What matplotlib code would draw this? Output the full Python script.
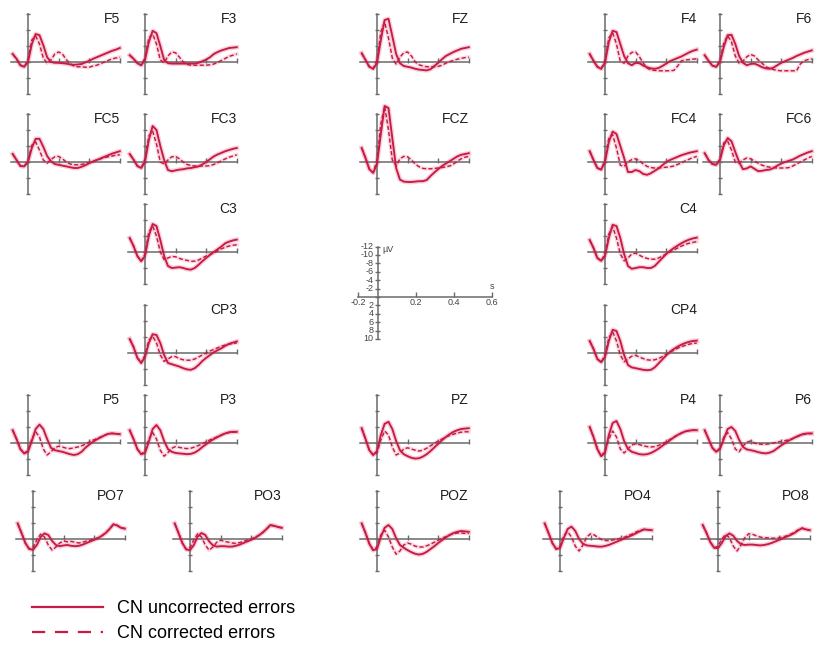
import matplotlib
matplotlib.use('Agg')
import matplotlib.pyplot as plt
from matplotlib.lines import Line2D

plt.rcParams['font.family'] = ['Liberation Sans', 'DejaVu Sans']
plt.rcParams['lines.scale_dashes'] = False

# sample times (s)
t = [-0.1, -0.075, -0.05, -0.025, 0.0, 0.025, 0.05, 0.075, 0.1, 0.125, 0.15, 0.175, 0.2, 0.225,
     0.25, 0.275, 0.3, 0.325, 0.35, 0.375, 0.4, 0.425, 0.45, 0.475, 0.5, 0.525, 0.55, 0.575, 0.6]

# amplitudes in microvolt (negative plotted upwards)
f5_unc = [-2.0, -0.8, 0.8, 1.2, 0.0, -4.5, -7.0, -6.7, -4.2, -1.2, 0.0, 0.2, 0.2, 0.3, 0.4, 0.6, 0.7, 0.6, 0.5, 0.1, -0.3, -0.8, -1.2, -1.6, -2.0, -2.4, -2.8, -3.1, -3.5]
f5_cor = [-2.0, -0.8, 0.8, 1.2, -0.5, -5.5, -6.5, -4.5, -1.0, 0.3, -0.5, -2.0, -2.5, -2.0, -0.6, 0.4, 1.0, 1.2, 1.2, 1.3, 1.3, 1.0, 0.8, 0.4, 0.0, -0.4, -0.8, -1.0, -1.2]
f3_unc = [-1.7, -0.8, 0.3, 0.8, -0.5, -5.0, -7.8, -7.2, -4.0, -0.5, 0.3, 0.4, 0.4, 0.4, 0.4, 0.4, 0.4, 0.4, 0.2, -0.2, -0.6, -1.2, -2.0, -2.5, -2.9, -3.2, -3.5, -3.6, -3.7]
f3_cor = [-1.7, -0.8, 0.3, 0.8, -1.0, -6.0, -7.0, -4.5, -0.5, 0.2, -1.5, -2.5, -2.3, -1.2, 0.0, 0.6, 0.8, 0.8, 0.8, 0.8, 0.8, 0.7, 0.5, 0.1, -0.4, -0.9, -1.4, -1.7, -2.0]
fz_unc = [-2.2, -0.5, 1.2, 1.7, 0.3, -5.5, -10.5, -10.8, -6.5, -2.0, 0.3, 1.0, 1.2, 1.4, 1.7, 1.9, 2.0, 2.1, 1.8, 1.0, 0.2, -0.7, -1.5, -2.0, -2.5, -2.9, -3.3, -3.5, -3.7]
fz_cor = [-2.2, -0.5, 1.2, 1.7, -0.5, -7.5, -10.0, -6.0, -1.0, 0.5, -1.2, -2.3, -2.5, -1.5, 0.0, 0.7, 1.0, 1.2, 1.2, 1.2, 1.1, 0.8, 0.3, -0.1, -0.4, -0.7, -0.9, -1.1, -1.2]
f4_unc = [-2.0, -0.3, 1.2, 1.7, 0.2, -5.0, -7.8, -7.5, -4.5, -1.5, 0.3, 0.8, 0.2, 0.3, 0.9, 1.3, 1.6, 1.7, 1.5, 1.0, 0.4, -0.2, -0.6, -1.0, -1.4, -1.9, -2.4, -2.8, -3.1]
f4_cor = [-2.0, -0.3, 1.2, 1.7, -0.3, -6.0, -7.3, -4.5, -0.2, 0.3, -1.5, -2.4, -2.5, -1.3, 0.3, 1.5, 2.0, 2.1, 2.2, 2.2, 2.2, 2.2, 2.1, 1.0, -0.3, -0.5, -0.6, -0.7, -0.8]
f6_unc = [-1.7, -0.3, 0.9, 1.2, 0.0, -3.8, -6.7, -6.8, -4.5, -1.5, 0.2, 0.8, 0.5, 0.4, 0.8, 1.3, 1.6, 1.7, 1.4, 0.8, 0.2, -0.2, -0.6, -1.0, -1.5, -1.9, -2.3, -2.6, -2.9]
f6_cor = [-1.7, -0.3, 0.9, 1.2, -0.5, -4.8, -6.6, -5.0, -1.5, 0.3, -0.2, -1.3, -1.9, -1.5, -0.5, 0.3, 1.2, 1.6, 1.9, 2.1, 2.2, 2.2, 2.2, 2.2, 2.2, 0.5, -0.3, -0.6, -0.8]

fc5_unc = [-2.0, -0.5, 1.0, 1.1, 0.0, -3.5, -5.8, -5.8, -3.8, -1.5, -0.2, 0.5, 0.7, 0.9, 1.1, 1.3, 1.5, 1.5, 1.2, 0.8, 0.3, -0.1, -0.5, -0.9, -1.3, -1.7, -2.1, -2.4, -2.7]
fc5_cor = [-2.0, -0.5, 1.0, 1.1, -0.3, -4.2, -5.0, -3.0, -0.5, 0.3, -0.6, -1.3, -1.4, -0.8, 0.0, 0.5, 0.7, 0.7, 0.6, 0.4, 0.1, -0.2, -0.5, -0.8, -1.1, -1.3, -1.5, -1.7, -1.8]
fc3_unc = [-2.0, -0.6, 1.0, 1.5, 0.0, -5.5, -9.0, -8.0, -4.0, -0.5, 2.0, 2.3, 2.1, 1.9, 1.8, 1.6, 1.5, 1.3, 1.1, 0.6, 0.0, -0.7, -1.4, -1.9, -2.3, -2.7, -3.0, -3.3, -3.5]
fc3_cor = [-2.0, -0.6, 1.0, 1.5, -0.8, -6.5, -7.7, -4.5, 0.0, 0.5, -0.5, -1.3, -1.4, -0.8, 0.0, 0.6, 0.9, 1.0, 1.0, 1.0, 1.0, 0.9, 0.6, 0.2, -0.3, -0.8, -1.2, -1.5, -1.8]
fcz_unc = [-3.5, -1.0, 1.8, 2.7, 0.5, -7.0, -14.0, -13.5, -6.0, 1.5, 4.4, 4.9, 5.0, 5.0, 4.9, 4.8, 4.8, 4.5, 3.5, 2.6, 1.8, 1.0, 0.4, -0.2, -0.8, -1.4, -1.8, -2.0, -2.2]
fcz_cor = [-3.5, -1.0, 1.8, 2.7, -0.5, -9.5, -13.9, -8.0, -0.5, 1.0, -0.8, -1.4, -1.3, -0.5, 0.5, 1.2, 1.6, 1.7, 1.7, 1.6, 1.5, 1.4, 1.2, 1.0, 0.5, -0.2, -0.8, -1.2, -1.4]
fc4_unc = [-2.7, -0.5, 1.5, 1.9, 0.0, -5.0, -7.6, -7.0, -4.0, -1.0, 2.5, 2.5, 2.0, 2.3, 3.0, 3.2, 2.8, 2.2, 1.6, 0.8, 0.0, -0.5, -0.9, -1.3, -1.7, -2.0, -2.3, -2.5, -2.7]
fc4_cor = [-2.7, -0.5, 1.5, 1.9, -0.5, -6.0, -6.8, -3.5, 0.8, 1.1, 0.0, -0.6, -0.8, -0.3, 0.5, 1.1, 1.4, 1.5, 1.5, 1.4, 1.3, 1.2, 1.0, 0.6, 0.2, -0.3, -0.7, -1.1, -1.4]
fc6_unc = [-2.2, -0.5, 0.5, 0.7, -0.5, -4.2, -6.0, -5.2, -2.5, 0.0, 1.8, 1.6, 1.1, 1.7, 2.3, 2.2, 2.0, 1.9, 1.5, 0.9, 0.4, 0.0, -0.3, -0.6, -1.1, -1.6, -2.0, -2.4, -2.7]
fc6_cor = [-2.2, -0.5, 0.5, 0.7, -0.8, -4.8, -5.2, -3.0, 0.0, 0.3, -0.5, -1.0, -0.8, -0.2, 0.3, 0.8, 1.1, 1.3, 1.4, 1.5, 1.5, 1.5, 1.4, 1.0, 0.5, 0.0, -0.5, -1.0, -1.4]

c3_unc = [-3.5, -1.5, 1.0, 2.3, 1.0, -4.0, -7.0, -6.5, -3.0, 1.0, 3.5, 4.0, 3.9, 3.8, 4.0, 4.3, 4.4, 4.0, 3.2, 2.3, 1.5, 0.7, 0.0, -0.7, -1.4, -2.2, -2.6, -2.9, -3.1]
c3_cor = [-3.5, -1.5, 1.0, 2.3, 0.5, -5.0, -6.5, -4.0, 0.0, 1.9, 1.5, 1.1, 1.2, 1.6, 1.9, 2.1, 2.3, 2.3, 2.0, 1.5, 1.0, 0.6, 0.2, -0.3, -0.8, -1.2, -1.5, -1.7, -1.8]
c4_unc = [-3.0, -1.0, 1.5, 2.2, 1.0, -3.5, -6.8, -6.5, -3.5, 0.5, 3.5, 4.2, 4.0, 3.8, 3.8, 4.0, 4.0, 3.5, 2.5, 1.5, 0.5, -0.3, -1.0, -1.6, -2.2, -2.7, -3.1, -3.4, -3.6]
c4_cor = [-3.0, -1.0, 1.5, 2.2, 0.5, -4.5, -6.3, -3.5, 0.5, 2.2, 1.5, 0.5, 0.3, 0.8, 1.3, 1.6, 1.8, 1.8, 1.5, 1.0, 0.5, 0.0, -0.5, -1.0, -1.5, -1.9, -2.2, -2.4, -2.6]
cp3_unc = [-3.5, -1.5, 1.2, 2.5, 1.0, -2.5, -4.7, -4.5, -2.5, 0.5, 2.5, 2.8, 3.1, 3.4, 3.8, 4.1, 4.2, 3.8, 3.0, 2.0, 1.2, 0.5, -0.2, -0.7, -1.2, -1.8, -2.3, -2.6, -2.9]
cp3_cor = [-3.5, -1.5, 1.2, 2.5, 0.5, -3.2, -4.2, -2.5, 0.5, 2.1, 1.5, 0.9, 0.9, 1.4, 1.7, 1.8, 1.8, 1.5, 1.0, 0.5, 0.0, -0.5, -0.9, -1.3, -1.7, -2.0, -2.2, -2.4, -2.5]
cp4_unc = [-3.0, -1.0, 1.5, 2.3, 1.0, -3.0, -5.8, -5.5, -3.0, 0.5, 3.0, 3.6, 3.8, 4.0, 4.2, 4.3, 4.2, 3.6, 2.6, 1.6, 0.6, -0.3, -1.0, -1.6, -2.1, -2.5, -2.8, -3.0, -3.1]
cp4_cor = [-3.0, -1.0, 1.5, 2.3, 0.5, -3.8, -5.3, -3.0, 0.5, 2.2, 1.5, 0.8, 0.6, 1.0, 1.4, 1.7, 1.8, 1.7, 1.4, 0.9, 0.3, -0.2, -0.7, -1.2, -1.6, -1.9, -2.2, -2.4, -2.5]

p5_unc = [-3.2, -1.0, 1.5, 2.6, 2.2, -0.5, -3.5, -4.6, -3.5, -1.0, 1.2, 1.8, 2.0, 2.2, 2.5, 2.8, 3.0, 2.8, 2.2, 1.2, 0.4, -0.3, -0.9, -1.4, -1.9, -2.3, -2.4, -2.3, -2.2]
p5_cor = [-3.2, -1.0, 1.5, 2.6, 1.8, -1.0, -2.8, -1.5, 1.5, 3.0, 2.2, 1.2, 0.8, 1.0, 1.3, 1.4, 1.2, 1.0, 0.7, 0.3, -0.2, -0.7, -1.1, -1.5, -1.9, -2.3, -2.4, -2.3, -2.2]
p3_unc = [-3.2, -1.0, 1.5, 2.8, 2.5, -0.3, -3.5, -4.5, -3.2, -0.5, 1.5, 2.2, 2.5, 2.6, 2.7, 2.8, 2.7, 2.4, 1.8, 1.0, 0.3, -0.4, -1.0, -1.5, -2.0, -2.4, -2.7, -2.8, -2.8]
p3_cor = [-3.2, -1.0, 1.5, 2.8, 2.0, -1.0, -2.6, -1.0, 1.8, 3.3, 2.4, 1.3, 0.9, 1.1, 1.3, 1.4, 1.3, 1.0, 0.6, 0.2, -0.3, -0.8, -1.2, -1.6, -2.0, -2.4, -2.6, -2.7, -2.7]
pz_unc = [-3.7, -1.0, 1.8, 3.0, 2.0, -2.0, -4.8, -5.3, -3.5, -0.5, 1.8, 2.8, 3.3, 3.7, 3.9, 3.8, 3.4, 2.8, 2.0, 1.1, 0.2, -0.7, -1.5, -2.2, -2.8, -3.2, -3.5, -3.6, -3.7]
pz_cor = [-3.7, -1.0, 1.8, 3.0, 2.5, -0.8, -3.0, -2.0, 1.0, 3.0, 2.5, 1.5, 1.2, 1.5, 1.8, 2.0, 1.8, 1.3, 0.7, 0.1, -0.5, -1.0, -1.5, -1.9, -2.2, -2.5, -2.7, -2.8, -2.8]
p4_unc = [-4.0, -1.5, 1.5, 3.3, 2.5, -2.0, -5.0, -5.5, -3.5, -0.5, 1.5, 2.2, 2.5, 2.8, 2.9, 2.8, 2.5, 2.0, 1.4, 0.7, 0.0, -0.7, -1.4, -2.0, -2.5, -2.9, -3.1, -3.2, -3.2]
p4_cor = [-4.0, -1.5, 1.5, 3.3, 2.0, -1.0, -3.0, -1.5, 1.5, 2.5, 1.5, 0.5, 0.2, 0.4, 0.7, 0.9, 1.0, 0.9, 0.6, 0.2, -0.3, -0.9, -1.5, -2.0, -2.5, -2.9, -3.1, -3.2, -3.2]
p6_unc = [-3.2, -1.0, 1.2, 2.2, 1.5, -1.0, -3.5, -4.0, -3.0, -0.8, 1.0, 1.6, 1.8, 2.0, 2.3, 2.5, 2.6, 2.4, 2.0, 1.3, 0.6, 0.0, -0.6, -1.1, -1.6, -2.0, -2.3, -2.4, -2.4]
p6_cor = [-3.2, -1.0, 1.2, 2.2, 1.2, -1.5, -2.6, -1.0, 1.5, 2.2, 0.8, -0.2, -0.5, 0.0, 0.3, 0.3, 0.3, 0.2, 0.0, -0.2, -0.4, -0.6, -0.8, -1.1, -1.5, -1.9, -2.2, -2.3, -2.4]

po7_unc = [-3.9, -1.5, 1.0, 2.5, 2.7, 1.5, -0.5, -1.4, -1.0, 0.5, 1.5, 1.8, 1.6, 1.5, 1.7, 1.8, 1.7, 1.4, 1.0, 0.6, 0.2, -0.2, -0.8, -1.5, -2.5, -3.7, -3.4, -2.8, -2.6]
po7_cor = [-3.9, -1.5, 1.0, 2.5, 2.2, 0.2, -1.2, -0.5, 1.5, 2.8, 2.0, 1.0, 0.5, 0.7, 0.6, 0.8, 1.0, 0.8, 0.5, 0.3, 0.0, -0.3, -0.8, -1.5, -2.5, -3.5, -3.4, -2.8, -2.6]
po3_unc = [-3.9, -1.5, 1.0, 2.6, 2.8, 1.5, -0.6, -1.5, -1.0, 0.6, 1.6, 1.9, 1.8, 1.8, 1.9, 1.9, 1.7, 1.4, 1.0, 0.6, 0.2, -0.3, -0.9, -1.6, -2.5, -3.5, -3.3, -3.0, -2.8]
po3_cor = [-3.9, -1.5, 1.0, 2.6, 2.2, 0.2, -1.3, -0.5, 1.5, 2.8, 2.0, 0.8, 0.3, 0.6, 0.8, 1.0, 1.1, 0.9, 0.6, 0.3, 0.0, -0.4, -0.9, -1.6, -2.5, -3.4, -3.3, -3.0, -2.8]
poz_unc = [-3.9, -1.5, 1.2, 2.8, 2.5, -0.5, -2.8, -3.5, -2.5, -0.2, 1.5, 2.2, 2.8, 3.3, 3.7, 3.9, 3.7, 3.2, 2.5, 1.8, 1.0, 0.3, -0.4, -1.0, -1.5, -1.8, -2.0, -1.9, -1.8]
poz_cor = [-3.9, -1.5, 1.2, 2.8, 2.0, -1.0, -2.2, -0.5, 2.0, 3.8, 3.0, 1.5, 1.0, 1.3, 1.8, 2.0, 2.0, 1.7, 1.3, 0.8, 0.3, -0.2, -0.6, -1.0, -1.3, -1.5, -1.5, -1.4, -1.4]
po4_unc = [-3.9, -1.5, 1.0, 2.5, 2.3, -0.3, -2.5, -3.1, -2.0, 0.0, 1.2, 1.6, 1.7, 1.8, 1.9, 1.9, 1.7, 1.4, 1.0, 0.6, 0.2, -0.2, -0.6, -1.0, -1.5, -2.0, -2.4, -2.3, -2.2]
po4_cor = [-3.9, -1.5, 1.0, 2.5, 1.8, -0.8, -1.8, -0.5, 1.8, 3.0, 1.5, -0.5, -1.3, -1.0, -0.3, 0.2, 0.4, 0.4, 0.2, 0.0, -0.2, -0.5, -0.9, -1.3, -1.8, -2.2, -2.4, -2.3, -2.2]
po8_unc = [-3.5, -1.5, 0.8, 2.2, 2.3, 1.0, -0.7, -1.4, -0.8, 0.5, 1.3, 1.5, 1.4, 1.4, 1.5, 1.6, 1.5, 1.3, 1.0, 0.6, 0.2, -0.2, -0.6, -1.0, -1.5, -2.2, -2.7, -2.4, -2.2]
po8_cor = [-3.5, -1.5, 0.8, 2.2, 1.8, 0.0, -1.2, -0.3, 1.8, 3.0, 1.5, -0.3, -1.3, -1.2, -0.8, -0.5, -0.3, -0.3, -0.2, -0.2, -0.3, -0.5, -0.8, -1.2, -1.7, -2.3, -2.7, -2.4, -2.2]

# scale-bar ticks
scale_uv = [-12, -10, -8, -6, -4, -2, 0, 2, 4, 6, 8, 10]
scale_s = [-0.1, 0.2, 0.4, 0.6]
scale_s_labels = ['-0.2', '0.2', '0.4', '0.6']

# panel name -> (uncorrected, corrected, origin pixel x, origin pixel y)
panels = {
    'F5': (f5_unc, f5_cor, 28, 62), 'F3': (f3_unc, f3_cor, 145, 62), 'FZ': (fz_unc, fz_cor, 377, 62),
    'F4': (f4_unc, f4_cor, 605, 62), 'F6': (f6_unc, f6_cor, 720, 62),
    'FC5': (fc5_unc, fc5_cor, 28, 162), 'FC3': (fc3_unc, fc3_cor, 145, 162), 'FCZ': (fcz_unc, fcz_cor, 377, 162),
    'FC4': (fc4_unc, fc4_cor, 605, 162), 'FC6': (fc6_unc, fc6_cor, 720, 162),
    'C3': (c3_unc, c3_cor, 145, 252), 'C4': (c4_unc, c4_cor, 605, 252),
    'CP3': (cp3_unc, cp3_cor, 145, 353), 'CP4': (cp4_unc, cp4_cor, 605, 353),
    'P5': (p5_unc, p5_cor, 28, 443), 'P3': (p3_unc, p3_cor, 145, 443), 'PZ': (pz_unc, pz_cor, 377, 443),
    'P4': (p4_unc, p4_cor, 605, 443), 'P6': (p6_unc, p6_cor, 720, 443),
    'PO7': (po7_unc, po7_cor, 33, 539), 'PO3': (po3_unc, po3_cor, 190, 539), 'POZ': (poz_unc, poz_cor, 377, 539),
    'PO4': (po4_unc, po4_cor, 560, 539), 'PO8': (po8_unc, po8_cor, 718, 539),
}

W, H = 817, 650
LINE = '#c81a44'
HALO = '#f3b3c3'
AXC = '#6a6a6a'

fig = plt.figure(figsize=(W / 100, H / 100), dpi=100)


def make_axes(x0, y0, pxs, pxv, xlim, ylim):
    # ylim is (bottom, top) with negative values on top
    left = x0 + xlim[0] * pxs
    right = x0 + xlim[1] * pxs
    top = y0 + ylim[1] * pxv
    bottom = y0 + ylim[0] * pxv
    ax = fig.add_axes([left / W, 1 - bottom / H, (right - left) / W, (bottom - top) / H])
    ax.set_xlim(*xlim)
    ax.set_ylim(*ylim)
    ax.axis('off')
    return ax


for name, (unc, cor, x0, y0) in panels.items():
    ax = make_axes(x0, y0, 153.0, 4.0, (-0.12, 0.62), (9, -13))
    ax.plot([-0.11, 0.6], [0, 0], color=AXC, lw=1.1, zorder=2)
    ax.plot([0, 0], [-12, 8], color=AXC, lw=1.1, zorder=2)
    ax.hlines([-12, -8, -4, 0, 4, 8], -0.016, 0.016, color=AXC, lw=1.0, zorder=2)
    ax.vlines([0.2, 0.4, 0.6], -1.1, 0.3, color=AXC, lw=1.0, zorder=2)
    ax.plot(t, unc, color=HALO, lw=3.4, alpha=0.6, zorder=1, clip_on=False)
    ax.plot(t, cor, color=HALO, lw=2.8, alpha=0.45, zorder=1, clip_on=False)
    ax.plot(t, unc, color=LINE, lw=1.35, zorder=3, clip_on=False)
    ax.plot(t, cor, color=LINE, lw=1.05, dashes=(3, 1.6), zorder=3, clip_on=False)
    ax.text(0.6, -12.4, name, ha='right', va='top', fontsize=10, color='#1e1e1e')

# scale bar in the middle
sa = make_axes(377.5, 297, 191.5, 4.2, (-0.2, 0.72), (12, -14))
sa.plot([-0.1, 0.6], [0, 0], color=AXC, lw=1.1)
sa.plot([0, 0], [-12, 10], color=AXC, lw=1.1)
sa.hlines(scale_uv, -0.013, 0.013, color=AXC, lw=1.0)
sa.vlines(scale_s, -1.1, 0.0, color=AXC, lw=1.0)
for v in scale_uv:
    if v != 0:
        sa.text(-0.02, v, str(v), ha='right', va='center', fontsize=6.5, color='#444444')
for s, lab in zip(scale_s, scale_s_labels):
    sa.text(s, 0.2, lab, ha='center', va='top', fontsize=6.5, color='#444444')
sa.text(0.028, -11.3, 'µV', ha='left', va='center', fontsize=6.5, color='#444444')
sa.text(0.6, -2.4, 's', ha='center', va='center', fontsize=6.5, color='#444444')

handles = [Line2D([], [], color=LINE, lw=1.6),
           Line2D([], [], color=LINE, lw=1.6, dashes=(9.5, 7))]
fig.legend(handles, ['CN uncorrected errors', 'CN corrected errors'],
           loc='upper left', bbox_to_anchor=(32 / W, 1 - 600 / H), frameon=False,
           fontsize=13, handlelength=3.95, handletextpad=0.75, labelspacing=0.45,
           borderpad=0, borderaxespad=0)

fig.savefig('out.png', dpi=100, facecolor='white')
